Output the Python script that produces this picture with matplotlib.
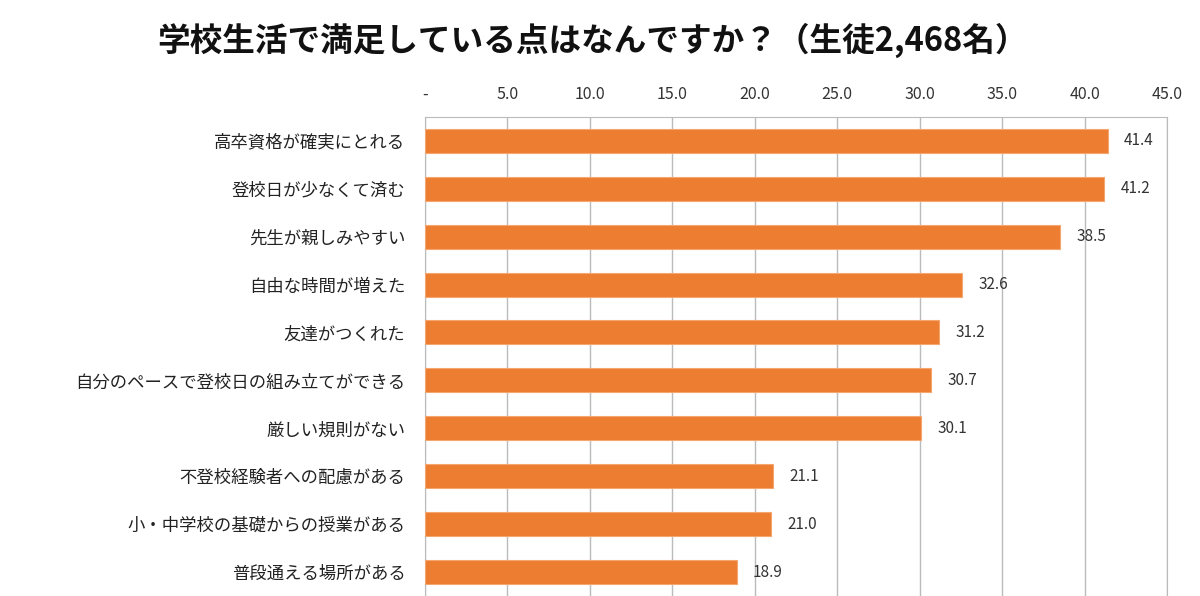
import numpy as np
import matplotlib.pyplot as plt

plt.rcParams['font.family'] = ['Noto Sans CJK JP', 'DejaVu Sans']

categories = ['高卒資格が確実にとれる', '登校日が少なくて済む', '先生が親しみやすい',
              '自由な時間が増えた', '友達がつくれた', '自分のペースで登校日の組み立てができる',
              '厳しい規則がない', '不登校経験者への配慮がある', '小・中学校の基礎からの授業がある',
              '普段通える場所がある']
values = [41.4, 41.2, 38.5, 32.6, 31.2, 30.7, 30.1, 21.1, 21.0, 18.9]
xticks = [0, 5, 10, 15, 20, 25, 30, 35, 40, 45]
xticklabels = ['-', '5.0', '10.0', '15.0', '20.0', '25.0', '30.0', '35.0', '40.0', '45.0']

fig = plt.figure(figsize=(12, 5.96), dpi=100)
ax = fig.add_axes([0.354, 0.0, 0.6185, 0.804])

y = np.arange(len(categories))
ax.barh(y, values, height=0.5, color='#ED7D31', edgecolor='#F4A66E', linewidth=0.8, zorder=3)
for yi, v in zip(y, values):
    ax.text(v + 1.0, yi, f'{v:.1f}', va='center', ha='left', fontsize=11, color='#333333')

ax.set_xlim(0, 45)
ax.set_ylim(len(categories) - 0.5, -0.5)
ax.set_yticks(y)
ax.set_yticklabels(categories, fontsize=12.5, color='#222222')
ax.set_xticks(xticks)
ax.set_xticklabels(xticklabels, fontsize=11.5, color='#333333')
ax.xaxis.tick_top()
ax.tick_params(axis='x', length=0, pad=10)
ax.tick_params(axis='y', length=0, pad=14)
ax.grid(axis='x', color='#BBBBBB', linewidth=1, zorder=0)
for s in ['top', 'right', 'left']:
    ax.spines[s].set_color('#BBBBBB')
ax.spines['bottom'].set_visible(False)

fig.text(0.494, 0.932, '学校生活で満足している点はなんですか？（生徒2,468名）',
         ha='center', va='center', fontsize=23.5, fontweight='bold', color='#111111')

fig.savefig('out.png', dpi=100)
